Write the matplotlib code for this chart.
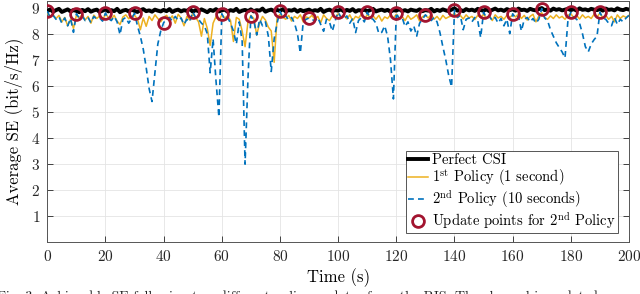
import numpy as np
import matplotlib
matplotlib.use("Agg")
import matplotlib.pyplot as plt

plt.rcParams['font.family'] = ['cmr10', 'DejaVu Serif']
plt.rcParams['mathtext.fontset'] = 'cm'
plt.rcParams['axes.formatter.use_mathtext'] = True

# ---------------- data ----------------
time_s = np.arange(0, 201, 1)

perfect_csi = [
    8.86, 8.92, 8.84, 8.90, 8.95, 8.83, 8.88, 8.93, 8.85, 8.90,
    8.87, 8.82, 8.91, 8.86, 8.94, 8.84, 8.89, 8.92, 8.83, 8.88,
    8.93, 8.85, 8.90, 8.86, 8.95, 8.82, 8.88, 8.91, 8.85, 8.92,
    8.87, 8.83, 8.90, 8.94, 8.86, 8.89, 8.84, 8.92, 8.88, 8.85,
    8.91, 8.86, 8.94, 8.83, 8.89, 8.92, 8.85, 8.90, 8.87, 8.95,
    8.84, 8.90, 8.86, 8.93, 8.88, 8.82, 8.91, 8.87, 8.94, 8.85,
    8.89, 8.92, 8.84, 8.90, 8.87, 8.95, 8.83, 8.88, 8.91, 8.86,
    8.93, 8.85, 8.90, 8.88, 8.96, 8.84, 8.89, 8.92, 8.86, 8.91,
    8.87, 8.94, 8.85, 8.90, 8.88, 8.93, 8.84, 8.91, 8.86, 8.89,
    8.92, 8.85, 8.90, 8.87, 8.95, 8.83, 8.89, 8.92, 8.86, 8.90,
    8.88, 8.93, 8.85, 8.91, 8.87, 8.94, 8.84, 8.90, 8.88, 8.92,
    8.86, 8.90, 8.95, 8.85, 8.89, 8.92, 8.87, 8.91, 8.84, 8.90,
    8.88, 8.94, 8.86, 8.90, 8.85, 8.92, 8.89, 8.87, 8.93, 8.86,
    8.90, 8.88, 8.95, 8.85, 8.91, 8.87, 8.93, 8.89, 8.86, 8.92,
    8.97, 8.88, 8.91, 8.86, 8.94, 8.89, 8.92, 8.87, 8.95, 8.90,
    8.88, 8.93, 8.86, 8.91, 8.96, 8.89, 8.92, 8.87, 8.94, 8.90,
    8.93, 8.88, 8.96, 8.90, 8.92, 8.87, 8.95, 8.91, 8.89, 8.94,
    8.98, 8.90, 8.93, 8.88, 8.96, 8.91, 8.94, 8.89, 8.92, 8.95,
    8.90, 8.94, 8.88, 8.97, 8.91, 8.93, 8.89, 8.95, 8.92, 8.90,
    8.94, 8.88, 8.96, 8.91, 8.93, 8.89, 8.97, 8.92, 8.90, 8.95,
    8.92,
]

policy_1s = [
    8.78, 8.65, 8.72, 8.58, 8.70, 8.45, 8.62, 8.30, 8.55, 8.20,
    8.70, 8.60, 8.74, 8.52, 8.66, 8.40, 8.71, 8.58, 8.68, 8.50,
    8.76, 8.62, 8.55, 8.70, 8.48, 8.35, 8.64, 8.72, 8.57, 8.66,
    8.70, 8.56, 8.15, 8.60, 8.28, 8.66, 8.50, 8.72, 8.58, 8.45,
    8.62, 8.70, 8.55, 8.68, 8.40, 8.74, 8.60, 8.30, 8.66, 8.52,
    8.75, 8.62, 8.45, 7.90, 8.58, 8.20, 7.55, 8.40, 8.65, 8.50,
    8.72, 8.60, 8.68, 8.50, 7.70, 8.62, 8.55, 8.10, 7.50, 8.45,
    8.70, 8.58, 7.95, 8.40, 8.66, 8.52, 8.25, 8.10, 6.90, 8.60,
    8.74, 8.62, 8.55, 8.70, 8.48, 8.66, 8.58, 8.72, 8.45, 8.64,
    8.60, 8.70, 8.55, 8.66, 8.42, 8.72, 8.58, 8.50, 8.68, 8.62,
    8.76, 8.64, 8.70, 8.56, 8.72, 8.50, 8.66, 8.60, 8.74, 8.55,
    8.72, 8.62, 8.68, 8.55, 8.70, 8.48, 8.64, 8.58, 8.72, 8.60,
    8.74, 8.58, 8.66, 8.50, 8.70, 8.55, 8.62, 8.72, 8.48, 8.65,
    8.70, 8.60, 8.74, 8.55, 8.66, 8.52, 8.70, 8.58, 8.64, 8.68,
    8.78, 8.62, 8.70, 8.56, 8.72, 8.60, 8.66, 8.54, 8.70, 8.62,
    8.74, 8.58, 8.68, 8.50, 8.72, 8.60, 8.66, 8.55, 8.70, 8.62,
    8.72, 8.64, 8.76, 8.58, 8.70, 8.52, 8.66, 8.74, 8.45, 8.68,
    8.80, 8.62, 8.55, 8.68, 8.58, 8.72, 8.60, 8.66, 8.55, 8.70,
    8.76, 8.62, 8.70, 8.56, 8.72, 8.60, 8.66, 8.58, 8.74, 8.64,
    8.78, 8.60, 8.70, 8.55, 8.66, 8.45, 8.72, 8.58, 8.68, 8.62,
    8.70,
]

policy_10s = [
    8.86, 8.62, 8.70, 8.55, 8.65, 8.40, 8.60, 8.30, 8.58, 8.05,
    8.76, 8.60, 8.68, 8.50, 8.62, 8.42, 8.66, 8.55, 8.60, 8.48,
    8.79, 8.58, 8.50, 8.66, 8.45, 7.96, 8.55, 8.62, 8.40, 8.58,
    8.78, 8.30, 7.90, 7.40, 6.70, 5.90, 5.40, 6.50, 7.60, 8.10,
    8.42, 8.55, 8.62, 8.48, 8.66, 8.50, 8.60, 8.35, 8.55, 8.45,
    8.84, 8.62, 8.55, 8.40, 8.30, 8.00, 6.50, 7.80, 6.20, 4.80,
    8.76, 8.55, 8.62, 8.40, 8.10, 7.60, 8.45, 7.70, 3.00, 6.30,
    8.68, 8.50, 7.95, 8.55, 8.30, 8.45, 7.90, 6.55, 7.80, 8.40,
    8.85, 8.60, 8.68, 8.52, 8.62, 8.40, 8.00, 7.26, 8.45, 8.55,
    8.60, 8.55, 8.48, 8.62, 8.35, 8.09, 8.55, 8.45, 8.09, 8.50,
    8.82, 8.62, 8.55, 8.68, 8.40, 8.58, 8.04, 8.50, 8.62, 8.45,
    8.82, 8.60, 8.55, 8.40, 8.00, 8.05, 8.30, 7.90, 7.00, 5.50,
    8.80, 8.55, 8.62, 8.27, 8.45, 8.10, 8.30, 7.90, 8.40, 8.55,
    8.72, 8.60, 8.50, 8.62, 8.45, 8.04, 7.50, 7.00, 6.40, 5.96,
    8.90, 8.62, 8.70, 8.15, 8.55, 8.60, 8.45, 8.62, 8.50, 7.85,
    8.82, 8.60, 8.66, 8.50, 8.62, 8.40, 8.58, 8.30, 8.55, 8.00,
    8.76, 8.60, 8.68, 8.10, 8.55, 8.62, 8.45, 8.58, 8.40, 8.55,
    8.96, 8.60, 8.50, 8.15, 7.90, 7.65, 7.47, 7.30, 7.07, 8.50,
    8.82, 8.62, 8.55, 8.40, 8.00, 7.50, 7.30, 7.60, 7.77, 7.90,
    8.82, 8.60, 8.55, 8.40, 8.30, 8.62, 8.35, 8.55, 8.45, 8.60,
    8.70,
]

update_times = [0, 10, 20, 30, 40, 50, 60, 70, 80, 90,
                100, 110, 120, 130, 140, 150, 160, 170, 180, 190]
update_values = [8.86, 8.76, 8.79, 8.78, 8.42, 8.84, 8.76, 8.68, 8.85, 8.60,
                 8.82, 8.82, 8.80, 8.72, 8.90, 8.82, 8.76, 8.96, 8.82, 8.82]

x_ticks = [0, 20, 40, 60, 80, 100, 120, 140, 160, 180, 200]
y_ticks = [1, 2, 3, 4, 5, 6, 7, 8, 9]

labels = ["Perfect CSI",
          r"1$^{\rm st}$ Policy (1 second)",
          r"2$^{\rm nd}$ Policy (10 seconds)",
          r"Update points for 2$^{\rm nd}$ Policy"]

# ---------------- figure ----------------
fig = plt.figure(figsize=(6.4, 2.94), dpi=100)
ax = fig.add_axes([0.0739, 0.1752, 0.9089, 0.8214])

ax.plot(time_s, perfect_csi, color='black', lw=2.8, label=labels[0], zorder=3)
ax.plot(time_s, policy_1s, color='#EDB120', lw=1.1, label=labels[1], zorder=4)
ax.plot(time_s, policy_10s, color='#0072BD', lw=1.2, ls=(0, (3.5, 2.5)),
        label=labels[2], zorder=5)
ax.plot(update_times, update_values, 'o', mfc='none', mec='#A2142F', ms=8.5,
        mew=2.0, label=labels[3], zorder=6)

ax.set_xlim(0, 200)
ax.set_ylim(0, 9.25)
ax.set_xticks(x_ticks)
ax.set_yticks(y_ticks)
ax.tick_params(direction='in', length=4, width=0.6, top=True, right=True,
               labelsize=11, colors='#262626', pad=5)
ax.grid(True, color='#e4e4e4', lw=0.6)
ax.set_axisbelow(True)
for s in ax.spines.values():
    s.set_color('#555555')
    s.set_linewidth(0.7)

ax.set_xlabel("Time (s)", fontsize=12, labelpad=3)
ax.set_ylabel("Average SE (bit/s/Hz)", fontsize=12, labelpad=6)

leg = ax.legend(loc='lower right', bbox_to_anchor=(0.981, 0.04),
                borderaxespad=0, fontsize=10.5, handlelength=1.4,
                handletextpad=0.25, labelspacing=0.0, borderpad=0.15,
                fancybox=False, framealpha=1, edgecolor='#555555')
leg.get_frame().set_linewidth(0.7)

fig.text(-0.004, 0.012,
         "Fig. 3: Achievable SE following two different policy updates from the RIS. "
         "The channel is updated every second over the 200",
         fontsize=10, va='top', ha='left', color='#222222')

fig.savefig("out.png", dpi=100)
